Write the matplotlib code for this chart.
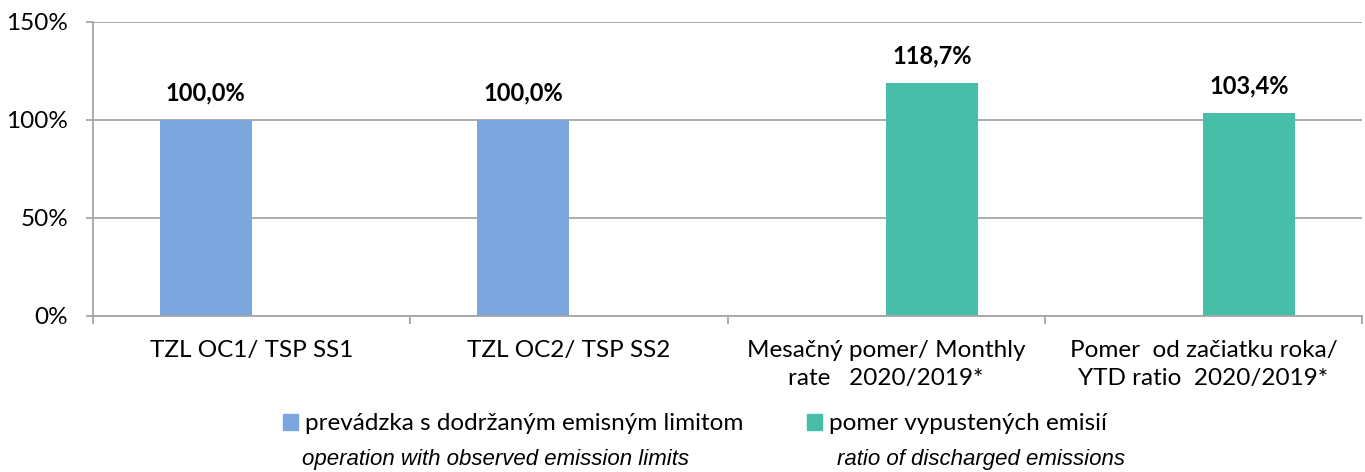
import matplotlib.pyplot as plt
import numpy as np
from matplotlib.patches import Patch

plt.rcParams['font.family'] = ['Lato', 'DejaVu Sans']

categories = ["TZL OC1/ TSP SS1", "TZL OC2/ TSP SS2",
              "Mesačný pomer/ Monthly\nrate   2020/2019*",
              "Pomer  od začiatku roka/\nYTD ratio  2020/2019*"]
limits = [100.0, 100.0, np.nan, np.nan]
ratio = [np.nan, np.nan, 118.7, 103.4]
series_names = ["prevádzka s dodržaným emisným limitom", "pomer vypustených emisií"]
series_notes = ["operation with observed emission limits", "ratio of discharged emissions"]
yticks = [0, 50, 100, 150]

blue = "#7BA7DE"
green = "#47BFA8"
grid_col = "#A6A6A6"
W, H = 1365, 472

fig = plt.figure(figsize=(W / 100, H / 100), dpi=100)
ax = fig.add_axes([93 / W, 1 - 316 / H, 1269 / W, 294 / H])

x = np.arange(len(categories))
w = 0.29
b1 = ax.bar(x - w / 2, limits, w, color=blue)
b2 = ax.bar(x + w / 2, ratio, w, color=green)

for bars, vals in [(b1, limits), (b2, ratio)]:
    for rect, v in zip(bars, vals):
        if np.isnan(v):
            continue
        ax.annotate(f"{v:.1f}%".replace(".", ","),
                    (rect.get_x() + rect.get_width() / 2, v),
                    xytext=(0, 14), textcoords="offset points",
                    ha="center", va="baseline", fontsize=17, fontweight="bold")

ax.set_xlim(-0.5, len(categories) - 0.5)
ax.set_ylim(0, 150)
ax.set_yticks(yticks)
ax.set_yticklabels([f"{t}%" for t in yticks], fontsize=17.5)
ax.yaxis.grid(True, color=grid_col, linewidth=1.3)
ax.set_axisbelow(True)

ax.set_xticks(np.arange(len(categories) + 1) - 0.5)
ax.set_xticklabels([])
ax.set_xticks(x, minor=True)
ax.set_xticklabels(categories, minor=True, fontsize=17.5, linespacing=1.45)
ax.tick_params(axis="x", which="minor", length=0, pad=17)
ax.tick_params(axis="x", which="major", length=6, color=grid_col, width=1.3)
ax.tick_params(axis="y", length=5, color=grid_col, width=1.3, pad=13)

for s in ["top", "right"]:
    ax.spines[s].set_visible(False)
for s in ["left", "bottom"]:
    ax.spines[s].set_color(grid_col)
    ax.spines[s].set_linewidth(1.3)

handles = [Patch(color=blue), Patch(color=green)]
fig.legend(handles, series_names, loc="center", bbox_to_anchor=(695 / W, 1 - 424 / H),
           ncol=2, frameon=False, fontsize=17.5, handlelength=0.62, handleheight=0.62,
           handletextpad=0.3, columnspacing=2.6, borderpad=0, borderaxespad=0)
fig.text(496 / W, 1 - 465 / H, series_notes[0], ha="center", va="baseline",
         fontsize=16, style="italic", family=["Liberation Sans", "DejaVu Sans"])
fig.text(981 / W, 1 - 465 / H, series_notes[1], ha="center", va="baseline",
         fontsize=16, style="italic", family=["Liberation Sans", "DejaVu Sans"])

fig.savefig("out.png", dpi=100)
